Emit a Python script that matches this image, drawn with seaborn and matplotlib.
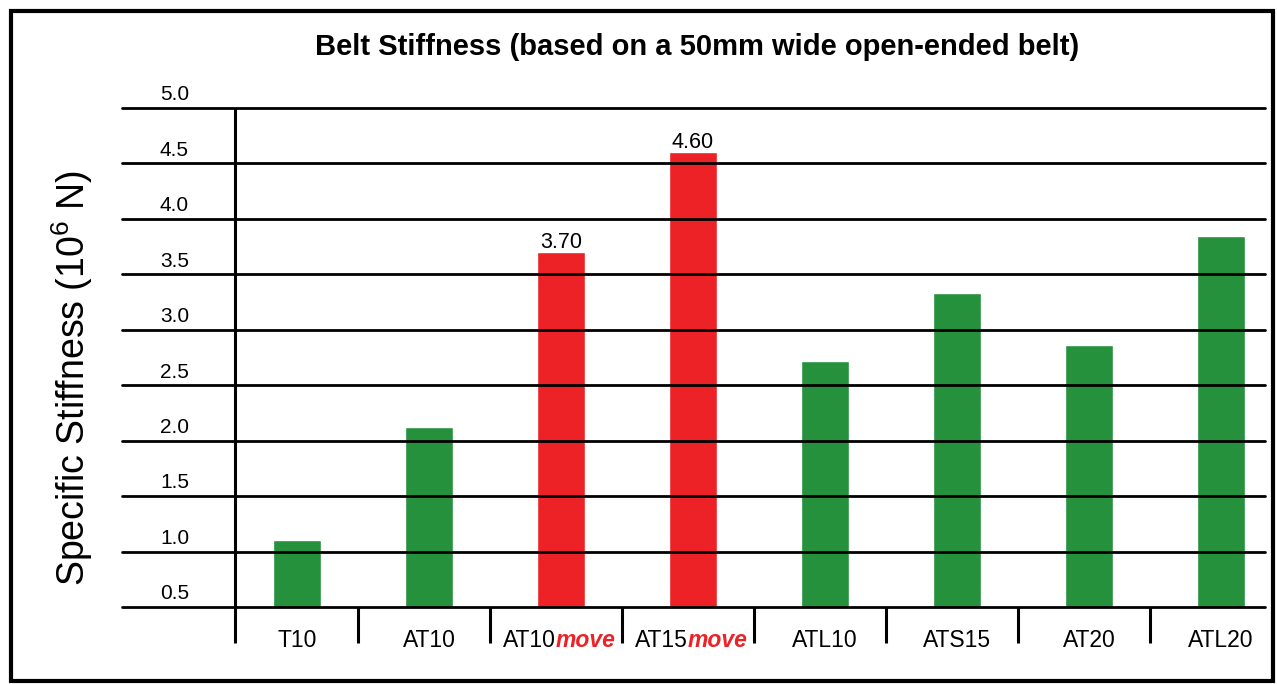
import matplotlib
matplotlib.use("Agg")
import matplotlib.pyplot as plt
from matplotlib.patches import Rectangle
import seaborn as sns

# data
belts = ['T10', 'AT10', 'AT10move', 'AT15move', 'ATL10', 'ATS15', 'AT20', 'ATL20']
stiffness = [1.10, 2.12, 3.70, 4.60, 2.72, 3.33, 2.86, 3.85]
highlight = [False, False, True, True, False, False, False, False]
y_ticks = [0.5, 1.0, 1.5, 2.0, 2.5, 3.0, 3.5, 4.0, 4.5, 5.0]

green = '#25913C'
red = '#EC2227'

sns.set_theme(style="white")
plt.rcParams['font.family'] = ['Liberation Sans', 'DejaVu Sans']
plt.rcParams['mathtext.default'] = 'regular'
plt.rcParams['text.color'] = 'black'

fig = plt.figure(figsize=(12.77, 6.84), dpi=100)
ax = fig.add_axes([122/1277, 77/684, 1143/1277, 507/684])

colors = [red if h else green for h in highlight]
sns.barplot(x=belts, y=stiffness, hue=belts, palette=colors, legend=False,
            width=0.364, saturation=1, ax=ax)

ax.set_xlim(-1.326, 7.333)
ax.set_ylim(0.5, 5.0 + 8/110.9)
for s in ax.spines.values():
    s.set_visible(False)
ax.set_xticks([])
ax.set_yticks([])
ax.set_xlabel('')
ax.set_ylabel('')

# horizontal rules + tick labels sitting above them
for v in y_ticks:
    ax.axhline(v, color='black', lw=2.0, zorder=3, clip_on=False)
    ax.annotate(f"{v:.1f}", xy=(67/1143, v), xycoords=('axes fraction', 'data'),
                xytext=(0, 5.5), textcoords='offset points',
                ha='right', va='baseline', fontsize=15, color='black')

# vertical axis line and category separators
ax.vlines(-0.47, 0.5 - 36/110.9, 5.0, color='black', lw=2.2, clip_on=False, zorder=3)
for i in range(len(belts) - 1):
    ax.vlines(i + 0.46, 0.5 - 36/110.9, 0.5, color='black', lw=2.2, clip_on=False, zorder=3)

# category labels
for i, name in enumerate(belts):
    if name.endswith('move'):
        base = name[:-4]
        ax.annotate(base, xy=(i, 0.5), xytext=(-4, -29), textcoords='offset points',
                    ha='right', va='baseline', fontsize=16.5, annotation_clip=False)
        ax.annotate('move', xy=(i, 0.5), xytext=(-4, -29), textcoords='offset points',
                    ha='left', va='baseline', fontsize=16.5, color=red,
                    fontweight='bold', fontstyle='italic', annotation_clip=False)
    else:
        ax.annotate(name, xy=(i, 0.5), xytext=(0, -29), textcoords='offset points',
                    ha='center', va='baseline', fontsize=16.5, annotation_clip=False)

# value labels on highlighted bars
for i, (v, h) in enumerate(zip(stiffness, highlight)):
    if h:
        ax.annotate(f"{v:.2f}", xy=(i, v), xytext=(0, 3), textcoords='offset points',
                    ha='center', va='baseline', fontsize=15.5, annotation_clip=False)

fig.text(697/1277, 1 - 47/684, 'Belt Stiffness (based on a 50mm wide open-ended belt)',
         ha='center', va='center', fontsize=21, fontweight='bold')
fig.text(72/1277, 1 - 378/684, 'Specific Stiffness (10$^{6}$ N)', rotation=90,
         ha='center', va='center', fontsize=27)

# frame around the whole picture
fig.add_artist(Rectangle((11/1277, 1 - 681/684), 1262/1277, 670/684,
                         transform=fig.transFigure, fill=False, lw=3, edgecolor='black'))

fig.savefig('out.png', dpi=100)
